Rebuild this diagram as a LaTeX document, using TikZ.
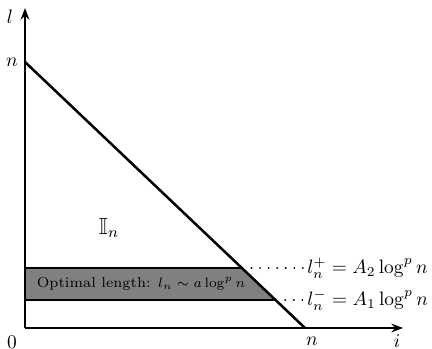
\documentclass[tikz,border=0pt]{standalone}
\usepackage{amssymb}
\usetikzlibrary{arrows.meta}
\begin{document}
\begin{tikzpicture}[x=0.515pt,y=-0.515pt,
  axis/.style={line width=1.5pt,-{Stealth[length=6pt,width=4.5pt]}},
  edge/.style={line width=1.3pt},
  dots/.style={line width=1.1pt,dash pattern=on 0.01pt off 4.4pt,line cap=round},
  lbl/.style={inner sep=0pt}]
\useasboundingbox (0,0) rectangle (432,349);
\coordinate (O) at (25,328);
\coordinate (Ytip) at (25,8);
\coordinate (Xtip) at (403,328);
\coordinate (Ntop) at (25,62);
\coordinate (Nright) at (305,328);
\coordinate (BTL) at (25,268);
\coordinate (BTR) at (241.8,268);
\coordinate (BBR) at (275.5,300);
\coordinate (BBL) at (25,300);
\fill[gray] (BTL) -- (BTR) -- (BBR) -- (BBL) -- cycle;
\draw[edge] (BTL) -- (BTR);
\draw[edge] (BBL) -- (BBR);
\draw[edge] (Ntop) -- (Nright);
\draw[axis] (O) -- (Ytip);
\draw[axis] (O) -- (Xtip);
\node[lbl] (zero) at (12,342) {$0$};
\node[lbl] (nx) at (312,341) {$n$};
\node[lbl] (ix) at (397,341) {$i$};
\node[lbl] (ly) at (10,17) {$l$};
\node[lbl] (ny) at (12,62) {$n$};
\node[lbl,font=\large] (I) at (109,228) {$\mathbb{I}_n$};
\node[lbl,font=\fontsize{7.4}{9}\selectfont] (opt) at (141,284) {Optimal length: $l_n\sim a\log^p n$};
\node[lbl,anchor=west] (lp) at (307,268) {$l_n^+ = A_2\log^p n$};
\node[lbl,anchor=west] (lm) at (307,300) {$l_n^- = A_1\log^p n$};
\draw[dots] ([xshift=5pt]BTR) -- ([xshift=-0.5pt]lp.west);
\draw[dots] ([xshift=5pt]BBR) -- ([xshift=-0.5pt]lm.west);
\end{tikzpicture}
\end{document}
